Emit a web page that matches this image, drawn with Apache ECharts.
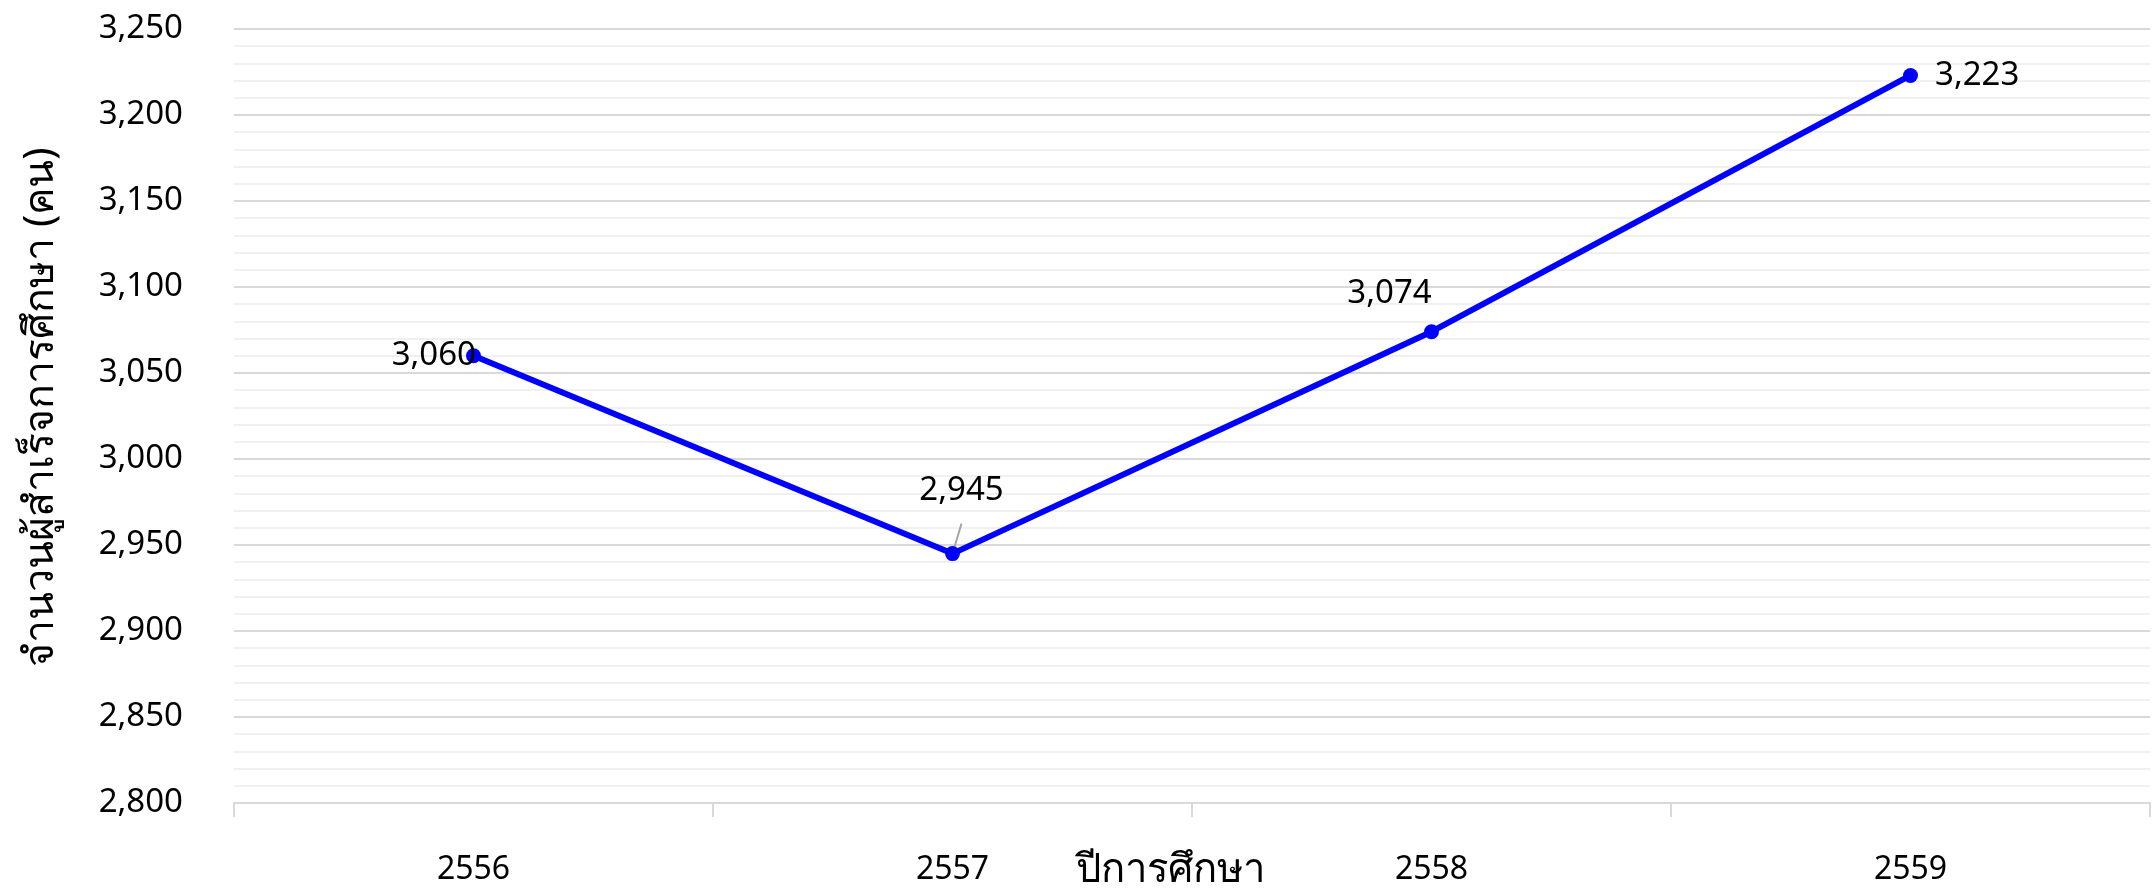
<!DOCTYPE html>
<html>
<head>
<meta charset="utf-8">
<script src="https://cdn.jsdelivr.net/npm/echarts@6/dist/echarts.min.js"></script>
<style>
html,body{margin:0;padding:0;background:#fff;}
#chart{width:2154px;height:894px;}
</style>
</head>
<body>
<div id="chart"></div>
<script>
const categories = ['2556', '2557', '2558', '2559'];
const values = [3060, 2945, 3074, 3223];
const xAxisTitle = 'ปีการศึกษา';
const yAxisTitle = 'จำนวนผู้สำเร็จการศึกษา (คน)';
const FONT = '"Noto Sans", sans-serif';

const labelSettings = [
  { position: 'left', distance: -10 },
  { position: 'top', offset: [9, -34], labelLine: { show: true, lineStyle: { color: '#a6a6a6', width: 2 } } },
  { position: 'top', offset: [-42, -9] },
  { position: 'right', distance: 17 }
];

const chart = echarts.init(document.getElementById('chart'), null, { renderer: 'canvas' });
chart.setOption({
  animation: false,
  textStyle: { fontFamily: FONT },
  grid: { left: 234, right: 4, top: 29, bottom: 91, outerBoundsMode: 'none', containLabel: false },
  xAxis: {
    type: 'category',
    data: categories,
    boundaryGap: true,
    name: xAxisTitle,
    nameLocation: 'middle',
    nameGap: 48,
    nameMoveOverlap: false,
    nameTextStyle: { fontSize: 40, color: '#000', fontFamily: FONT, padding: [0, 44, 0, 0] },
    axisLine: { lineStyle: { color: '#d9d9d9', width: 2 } },
    axisTick: { show: true, length: 14, lineStyle: { color: '#d9d9d9', width: 2 } },
    axisLabel: { fontSize: 32, color: '#000', margin: 51, fontFamily: FONT }
  },
  yAxis: {
    type: 'value',
    min: 2800,
    max: 3250,
    interval: 50,
    name: yAxisTitle,
    nameLocation: 'middle',
    nameGap: 172,
    nameMoveOverlap: false,
    nameTextStyle: { fontSize: 41, color: '#000', fontFamily: FONT, padding: [0, 0, 0, 18] },
    axisLine: { show: false },
    axisTick: { show: false },
    axisLabel: {
      fontSize: 33, color: '#000', margin: 51, fontFamily: FONT,
      formatter: v => v.toLocaleString('en-US')
    },
    splitLine: { lineStyle: { color: '#d9d9d9', width: 2 } },
    minorTick: { show: false, splitNumber: 5 },
    minorSplitLine: { show: true, lineStyle: { color: '#f0f0f0', width: 2 } }
  },
  series: [{
    type: 'line',
    data: values.map((v, i) => Object.assign({ value: v }, {
      label: Object.assign({ show: true }, labelSettings[i], { labelLine: undefined })
    }, labelSettings[i].labelLine ? { labelLine: labelSettings[i].labelLine } : {})),
    symbol: 'circle',
    symbolSize: 15,
    lineStyle: { color: '#0000ff', width: 6 },
    itemStyle: { color: '#0000ff' },
    label: {
      show: true,
      fontSize: 33,
      color: '#000',
      fontFamily: FONT,
      formatter: p => p.value.toLocaleString('en-US')
    }
  }]
});
</script>
</body>
</html>
